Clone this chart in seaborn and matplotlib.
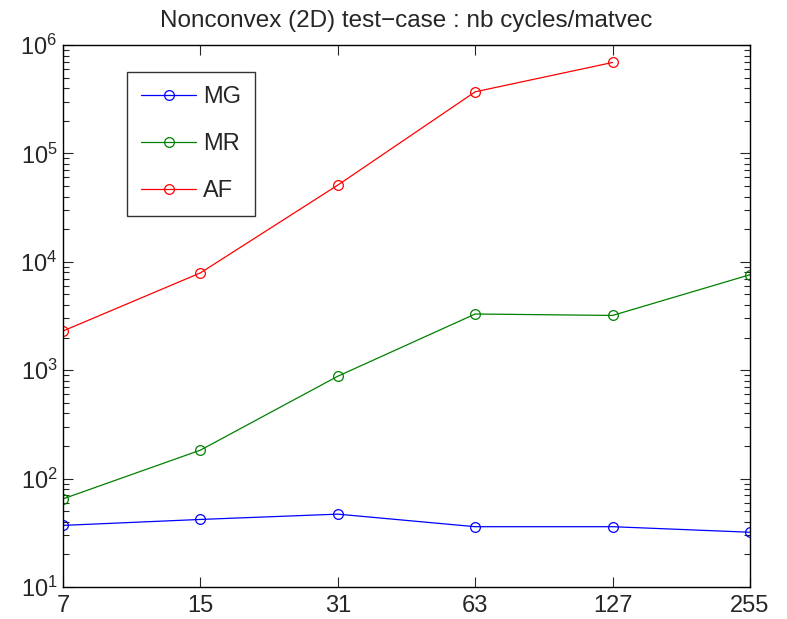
import matplotlib
matplotlib.use("Agg")
import matplotlib.pyplot as plt
import seaborn as sns
import pandas as pd
import numpy as np

# values
sizes = ["7", "15", "31", "63", "127", "255"]
mg = [37, 42, 47, 36, 36, 32]
mr = [65, 183, 880, 3300, 3200, 7600]
af = [2300, 7900, 51000, 370000, 690000]

rows = []
for name, vals in [("MG", mg), ("MR", mr), ("AF", af)]:
    for i, v in enumerate(vals):
        rows.append({"pos": i, "method": name, "cycles": v})
df = pd.DataFrame(rows)

sns.set_style("ticks")
plt.rcParams["font.family"] = ["Liberation Sans", "DejaVu Sans"]
plt.rcParams["mathtext.fontset"] = "custom"
plt.rcParams["mathtext.rm"] = "Liberation Sans"
plt.rcParams["mathtext.it"] = "Liberation Sans"

fig = plt.figure(figsize=(7.87, 6.19), dpi=100)
ax = fig.add_axes([63 / 787, 1 - 587 / 619, 687 / 787, 542 / 619])

pal = {"MG": (0, 0, 1), "MR": (0, 0.5, 0), "AF": (1, 0, 0)}
sns.lineplot(data=df, x="pos", y="cycles", hue="method", palette=pal,
             marker="o", markersize=7, markerfacecolor="none",
             markeredgewidth=0.9, linewidth=0.9, ax=ax)
for line in ax.lines:
    line.set_markeredgecolor(line.get_color())
    line.set_markerfacecolor("none")

ax.set_yscale("log")
ax.set_ylim(10, 1e6)
ax.set_xlim(0, len(sizes) - 1)
ax.set_xticks(range(len(sizes)))
ax.set_xticklabels(sizes)
ax.set_xlabel("")
ax.set_ylabel("")
ax.set_title("Nonconvex (2D) test\u2212case : nb cycles/matvec", fontsize=17.5, pad=13)

ax.tick_params(which="both", direction="in", top=True, right=True,
               labelsize=17, width=0.8)
ax.tick_params(which="major", length=7, pad=6)
ax.tick_params(axis="y", which="major", pad=4)
ax.tick_params(which="minor", length=4)
ax.tick_params(axis="x", which="minor", top=False, bottom=False)
for s in ax.spines.values():
    s.set_linewidth(1.0)
    s.set_color("black")

leg = ax.legend(loc="upper left", bbox_to_anchor=(0.093, 0.95), borderaxespad=0,
                fontsize=17, handlelength=2.33, handletextpad=0.3,
                labelspacing=1.05, borderpad=0.6,
                frameon=True, fancybox=False, edgecolor="black")
leg.get_frame().set_linewidth(1.0)
for h in leg.get_lines():
    h.set_markerfacecolor("none")

fig.savefig("out.png", dpi=100)
